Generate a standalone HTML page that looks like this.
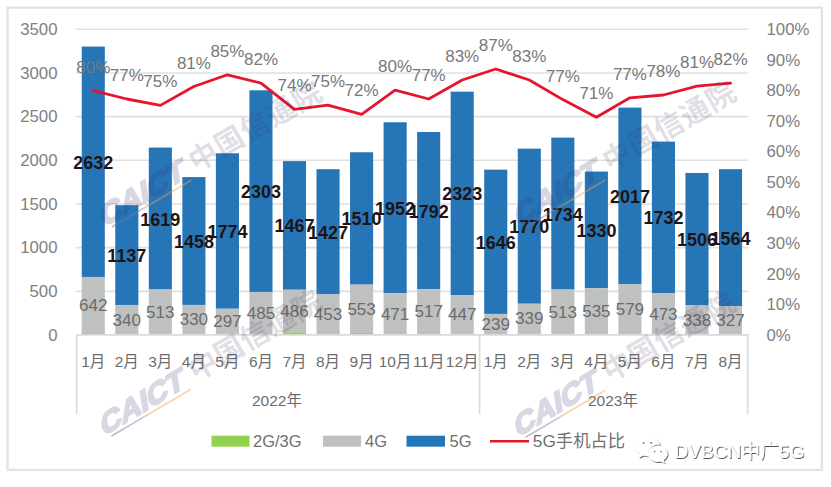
<!DOCTYPE html>
<html lang="zh"><head><meta charset="utf-8"><title>chart</title>
<style>
html,body{margin:0;padding:0;background:#fff;}
body{width:831px;height:487px;overflow:hidden;}
svg{display:block;}
text{font-family:"Liberation Sans","Noto Sans CJK SC",sans-serif;}
.ax{font-size:16.8px;fill:#808080;}
.mo{font-size:15.5px;fill:#6c6c6c;}
.pc{font-size:17px;fill:#787878;}
.g4{font-size:17px;fill:#6b6b6b;}
.b5{font-size:18px;font-weight:bold;fill:#1f1414;}
.lg{font-size:16.5px;fill:#707070;}
.wmA{font-size:28px;font-weight:bold;fill:#3a3370;stroke:#3a3370;stroke-width:2px;stroke-linejoin:round;opacity:0.19;}
.wmB{font-size:29px;font-weight:700;fill:#40385a;fill-opacity:0.18;letter-spacing:0.8px;}
.wx{font-size:19px;fill:#fff;}
</style></head><body>
<svg width="831" height="487" viewBox="0 0 831 487">
<defs>
<filter id="sh" x="-10%" y="-20%" width="120%" height="150%"><feDropShadow dx="0.8" dy="0.9" stdDeviation="0.5" flood-color="#000" flood-opacity="0.75"/></filter>
<linearGradient id="ul" x1="0" x2="1" y1="0" y2="0"><stop offset="0" stop-color="#6a64a8"/><stop offset="0.38" stop-color="#8a80b0"/><stop offset="0.5" stop-color="#f0a040"/><stop offset="1" stop-color="#f0a040"/></linearGradient>
<g id="wm"><g transform="translate(2.5,2.2) rotate(-30.8) skewX(-22) scale(1.12,1)"><text class="wmA" x="0" y="0">CAICT</text></g><g transform="skewY(-30.5)"><rect x="11" y="7.6" width="79.5" height="2" fill="url(#ul)" opacity="0.45"/></g><g transform="translate(102.25,-69.4) rotate(-30)"><text class="wmB" x="-14.5" y="11">中国信通院</text></g></g>
</defs>
<rect x="0" y="0" width="831" height="487" fill="#fff"/>
<rect x="7.6" y="7.6" width="814.3" height="462.3" fill="#fff" stroke="#e3e3e3" stroke-width="2.3"/>
<line x1="76" y1="291.33" x2="748.4" y2="291.33" stroke="#e0e0e0" stroke-width="1.6"/>
<line x1="76" y1="247.66" x2="748.4" y2="247.66" stroke="#e0e0e0" stroke-width="1.6"/>
<line x1="76" y1="203.99" x2="748.4" y2="203.99" stroke="#e0e0e0" stroke-width="1.6"/>
<line x1="76" y1="160.31" x2="748.4" y2="160.31" stroke="#e0e0e0" stroke-width="1.6"/>
<line x1="76" y1="116.64" x2="748.4" y2="116.64" stroke="#e0e0e0" stroke-width="1.6"/>
<line x1="76" y1="72.97" x2="748.4" y2="72.97" stroke="#e0e0e0" stroke-width="1.6"/>
<line x1="76" y1="29.30" x2="748.4" y2="29.30" stroke="#e0e0e0" stroke-width="1.6"/>
<rect x="81.72" y="46.58" width="23.1" height="230.39" fill="#2675b7"/><rect x="81.72" y="276.96" width="23.1" height="56.17" fill="#bfc0c0"/><rect x="81.72" y="333.14" width="23.1" height="1.86" fill="#92d050"/>
<rect x="115.26" y="205.17" width="23.1" height="99.81" fill="#2675b7"/><rect x="115.26" y="304.98" width="23.1" height="29.80" fill="#bfc0c0"/><rect x="115.26" y="334.78" width="23.1" height="0.22" fill="#92d050"/>
<rect x="148.80" y="147.56" width="23.1" height="141.91" fill="#2675b7"/><rect x="148.80" y="289.47" width="23.1" height="44.91" fill="#bfc0c0"/><rect x="148.80" y="334.38" width="23.1" height="0.62" fill="#92d050"/>
<rect x="182.34" y="177.09" width="23.1" height="127.85" fill="#2675b7"/><rect x="182.34" y="304.94" width="23.1" height="28.92" fill="#bfc0c0"/><rect x="182.34" y="333.86" width="23.1" height="1.14" fill="#92d050"/>
<rect x="215.88" y="153.28" width="23.1" height="155.45" fill="#2675b7"/><rect x="215.88" y="308.73" width="23.1" height="26.04" fill="#bfc0c0"/><rect x="215.88" y="334.77" width="23.1" height="0.23" fill="#92d050"/>
<rect x="249.42" y="90.29" width="23.1" height="201.65" fill="#2675b7"/><rect x="249.42" y="291.94" width="23.1" height="42.46" fill="#bfc0c0"/><rect x="249.42" y="334.40" width="23.1" height="0.60" fill="#92d050"/>
<rect x="282.96" y="161.12" width="23.1" height="128.63" fill="#2675b7"/><rect x="282.96" y="289.75" width="23.1" height="42.55" fill="#bfc0c0"/><rect x="282.96" y="332.30" width="23.1" height="2.70" fill="#92d050"/>
<rect x="316.50" y="169.22" width="23.1" height="125.14" fill="#2675b7"/><rect x="316.50" y="294.36" width="23.1" height="39.67" fill="#bfc0c0"/><rect x="316.50" y="334.03" width="23.1" height="0.97" fill="#92d050"/>
<rect x="350.04" y="152.26" width="23.1" height="132.39" fill="#2675b7"/><rect x="350.04" y="284.65" width="23.1" height="48.40" fill="#bfc0c0"/><rect x="350.04" y="333.05" width="23.1" height="1.95" fill="#92d050"/>
<rect x="383.58" y="122.25" width="23.1" height="170.99" fill="#2675b7"/><rect x="383.58" y="293.24" width="23.1" height="41.24" fill="#bfc0c0"/><rect x="383.58" y="334.48" width="23.1" height="0.52" fill="#92d050"/>
<rect x="417.12" y="132.03" width="23.1" height="157.02" fill="#2675b7"/><rect x="417.12" y="289.05" width="23.1" height="45.26" fill="#bfc0c0"/><rect x="417.12" y="334.31" width="23.1" height="0.69" fill="#92d050"/>
<rect x="450.66" y="91.66" width="23.1" height="203.40" fill="#2675b7"/><rect x="450.66" y="295.06" width="23.1" height="39.14" fill="#bfc0c0"/><rect x="450.66" y="334.20" width="23.1" height="0.80" fill="#92d050"/>
<rect x="484.20" y="169.65" width="23.1" height="144.27" fill="#2675b7"/><rect x="484.20" y="313.92" width="23.1" height="20.97" fill="#bfc0c0"/><rect x="484.20" y="334.89" width="23.1" height="0.11" fill="#92d050"/>
<rect x="517.74" y="148.64" width="23.1" height="155.10" fill="#2675b7"/><rect x="517.74" y="303.73" width="23.1" height="29.71" fill="#bfc0c0"/><rect x="517.74" y="333.44" width="23.1" height="1.56" fill="#92d050"/>
<rect x="551.28" y="137.60" width="23.1" height="151.95" fill="#2675b7"/><rect x="551.28" y="289.55" width="23.1" height="44.91" fill="#bfc0c0"/><rect x="551.28" y="334.46" width="23.1" height="0.54" fill="#92d050"/>
<rect x="584.82" y="171.56" width="23.1" height="116.67" fill="#2675b7"/><rect x="584.82" y="288.23" width="23.1" height="46.83" fill="#bfc0c0"/><rect x="584.82" y="335.06" width="23.1" height="-0.06" fill="#92d050"/>
<rect x="618.36" y="107.59" width="23.1" height="176.67" fill="#2675b7"/><rect x="618.36" y="284.26" width="23.1" height="50.67" fill="#bfc0c0"/><rect x="618.36" y="334.93" width="23.1" height="0.07" fill="#92d050"/>
<rect x="651.90" y="141.58" width="23.1" height="151.78" fill="#2675b7"/><rect x="651.90" y="293.36" width="23.1" height="41.41" fill="#bfc0c0"/><rect x="651.90" y="334.77" width="23.1" height="0.23" fill="#92d050"/>
<rect x="685.44" y="172.96" width="23.1" height="132.04" fill="#2675b7"/><rect x="685.44" y="305.00" width="23.1" height="29.62" fill="#bfc0c0"/><rect x="685.44" y="334.62" width="23.1" height="0.38" fill="#92d050"/>
<rect x="718.98" y="169.18" width="23.1" height="137.10" fill="#2675b7"/><rect x="718.98" y="306.28" width="23.1" height="28.66" fill="#bfc0c0"/><rect x="718.98" y="334.94" width="23.1" height="0.06" fill="#92d050"/>
<line x1="76" y1="334.8" x2="748.4" y2="334.8" stroke="#dadada" stroke-width="1.8"/>
<line x1="76.7" y1="334" x2="76.7" y2="414.3" stroke="#dcdcdc" stroke-width="1.7"/>
<line x1="479.6" y1="334" x2="479.6" y2="414.3" stroke="#dcdcdc" stroke-width="1.7"/>
<line x1="747.7" y1="334" x2="747.7" y2="414.3" stroke="#dcdcdc" stroke-width="1.7"/>
<text class="ax" x="57.5" y="340.6" text-anchor="end">0</text>
<text class="ax" x="57.5" y="296.9" text-anchor="end">500</text>
<text class="ax" x="57.5" y="253.3" text-anchor="end">1000</text>
<text class="ax" x="57.5" y="209.6" text-anchor="end">1500</text>
<text class="ax" x="57.5" y="165.9" text-anchor="end">2000</text>
<text class="ax" x="57.5" y="122.2" text-anchor="end">2500</text>
<text class="ax" x="57.5" y="78.6" text-anchor="end">3000</text>
<text class="ax" x="57.5" y="34.9" text-anchor="end">3500</text>
<text class="ax" x="766.5" y="340.6">0%</text>
<text class="ax" x="766.5" y="310.0">10%</text>
<text class="ax" x="766.5" y="279.5">20%</text>
<text class="ax" x="766.5" y="248.9">30%</text>
<text class="ax" x="766.5" y="218.3">40%</text>
<text class="ax" x="766.5" y="187.8">50%</text>
<text class="ax" x="766.5" y="157.2">60%</text>
<text class="ax" x="766.5" y="126.6">70%</text>
<text class="ax" x="766.5" y="96.0">80%</text>
<text class="ax" x="766.5" y="65.5">90%</text>
<text class="ax" x="766.5" y="34.9">100%</text>
<text class="mo" x="93.3" y="366.8" text-anchor="middle">1月</text>
<text class="mo" x="126.8" y="366.8" text-anchor="middle">2月</text>
<text class="mo" x="160.3" y="366.8" text-anchor="middle">3月</text>
<text class="mo" x="193.9" y="366.8" text-anchor="middle">4月</text>
<text class="mo" x="227.4" y="366.8" text-anchor="middle">5月</text>
<text class="mo" x="261.0" y="366.8" text-anchor="middle">6月</text>
<text class="mo" x="294.5" y="366.8" text-anchor="middle">7月</text>
<text class="mo" x="328.0" y="366.8" text-anchor="middle">8月</text>
<text class="mo" x="361.6" y="366.8" text-anchor="middle">9月</text>
<text class="mo" x="395.1" y="366.8" text-anchor="middle">10月</text>
<text class="mo" x="428.7" y="366.8" text-anchor="middle">11月</text>
<text class="mo" x="462.2" y="366.8" text-anchor="middle">12月</text>
<text class="mo" x="495.8" y="366.8" text-anchor="middle">1月</text>
<text class="mo" x="529.3" y="366.8" text-anchor="middle">2月</text>
<text class="mo" x="562.8" y="366.8" text-anchor="middle">3月</text>
<text class="mo" x="596.4" y="366.8" text-anchor="middle">4月</text>
<text class="mo" x="629.9" y="366.8" text-anchor="middle">5月</text>
<text class="mo" x="663.4" y="366.8" text-anchor="middle">6月</text>
<text class="mo" x="697.0" y="366.8" text-anchor="middle">7月</text>
<text class="mo" x="730.5" y="366.8" text-anchor="middle">8月</text>
<text class="mo" x="277" y="406" text-anchor="middle">2022年</text>
<text class="mo" x="613" y="406" text-anchor="middle">2023年</text>
<text class="g4" x="93.3" y="310.7" text-anchor="middle">642</text>
<text class="g4" x="126.8" y="325.5" text-anchor="middle">340</text>
<text class="g4" x="160.3" y="317.6" text-anchor="middle">513</text>
<text class="g4" x="193.9" y="325.1" text-anchor="middle">330</text>
<text class="g4" x="227.4" y="327.4" text-anchor="middle">297</text>
<text class="g4" x="261.0" y="318.8" text-anchor="middle">485</text>
<text class="g4" x="294.5" y="316.7" text-anchor="middle">486</text>
<text class="g4" x="328.0" y="319.8" text-anchor="middle">453</text>
<text class="g4" x="361.6" y="314.5" text-anchor="middle">553</text>
<text class="g4" x="395.1" y="319.5" text-anchor="middle">471</text>
<text class="g4" x="428.7" y="317.3" text-anchor="middle">517</text>
<text class="g4" x="462.2" y="320.3" text-anchor="middle">447</text>
<text class="g4" x="495.8" y="330.1" text-anchor="middle">239</text>
<text class="g4" x="529.3" y="324.2" text-anchor="middle">339</text>
<text class="g4" x="562.8" y="317.7" text-anchor="middle">513</text>
<text class="g4" x="596.4" y="317.3" text-anchor="middle">535</text>
<text class="g4" x="629.9" y="315.2" text-anchor="middle">579</text>
<text class="g4" x="663.4" y="319.7" text-anchor="middle">473</text>
<text class="g4" x="697.0" y="325.5" text-anchor="middle">338</text>
<text class="g4" x="730.5" y="326.3" text-anchor="middle">327</text>
<text class="b5" x="93.3" y="168.7" text-anchor="middle">2632</text>
<text class="b5" x="126.8" y="262.0" text-anchor="middle">1137</text>
<text class="b5" x="160.3" y="225.5" text-anchor="middle">1619</text>
<text class="b5" x="193.9" y="248.0" text-anchor="middle">1458</text>
<text class="b5" x="227.4" y="238.0" text-anchor="middle">1774</text>
<text class="b5" x="261.0" y="198.1" text-anchor="middle">2303</text>
<text class="b5" x="294.5" y="232.4" text-anchor="middle">1467</text>
<text class="b5" x="328.0" y="238.7" text-anchor="middle">1427</text>
<text class="b5" x="361.6" y="225.4" text-anchor="middle">1510</text>
<text class="b5" x="395.1" y="214.7" text-anchor="middle">1952</text>
<text class="b5" x="428.7" y="217.5" text-anchor="middle">1792</text>
<text class="b5" x="462.2" y="200.3" text-anchor="middle">2323</text>
<text class="b5" x="495.8" y="248.7" text-anchor="middle">1646</text>
<text class="b5" x="529.3" y="233.1" text-anchor="middle">1770</text>
<text class="b5" x="562.8" y="220.5" text-anchor="middle">1734</text>
<text class="b5" x="596.4" y="236.8" text-anchor="middle">1330</text>
<text class="b5" x="629.9" y="202.9" text-anchor="middle">2017</text>
<text class="b5" x="663.4" y="224.4" text-anchor="middle">1732</text>
<text class="b5" x="697.0" y="245.9" text-anchor="middle">1506</text>
<text class="b5" x="730.5" y="244.7" text-anchor="middle">1564</text>
<polyline points="93.3,90.7 126.8,99.0 160.3,105.4 193.9,86.5 227.4,74.8 261.0,83.1 294.5,109.4 328.0,105.1 361.6,114.3 395.1,90.1 428.7,99.0 462.2,80.0 495.8,69.0 529.3,80.0 562.8,99.6 596.4,117.3 629.9,97.8 663.4,95.0 697.0,86.2 730.5,83.1" fill="none" stroke="#e6142d" stroke-width="2.8" stroke-linejoin="round" stroke-linecap="round"/>
<text class="pc" x="93.3" y="72.7" text-anchor="middle">80%</text>
<text class="pc" x="126.8" y="81.0" text-anchor="middle">77%</text>
<text class="pc" x="160.3" y="87.4" text-anchor="middle">75%</text>
<text class="pc" x="193.9" y="68.5" text-anchor="middle">81%</text>
<text class="pc" x="227.4" y="56.8" text-anchor="middle">85%</text>
<text class="pc" x="261.0" y="65.1" text-anchor="middle">82%</text>
<text class="pc" x="294.5" y="91.4" text-anchor="middle">74%</text>
<text class="pc" x="328.0" y="87.1" text-anchor="middle">75%</text>
<text class="pc" x="361.6" y="96.3" text-anchor="middle">72%</text>
<text class="pc" x="395.1" y="72.1" text-anchor="middle">80%</text>
<text class="pc" x="428.7" y="81.0" text-anchor="middle">77%</text>
<text class="pc" x="462.2" y="62.0" text-anchor="middle">83%</text>
<text class="pc" x="495.8" y="51.0" text-anchor="middle">87%</text>
<text class="pc" x="529.3" y="62.0" text-anchor="middle">83%</text>
<text class="pc" x="562.8" y="81.6" text-anchor="middle">77%</text>
<text class="pc" x="596.4" y="99.3" text-anchor="middle">71%</text>
<text class="pc" x="629.9" y="79.8" text-anchor="middle">77%</text>
<text class="pc" x="663.4" y="77.0" text-anchor="middle">78%</text>
<text class="pc" x="697.0" y="68.2" text-anchor="middle">81%</text>
<text class="pc" x="730.5" y="65.1" text-anchor="middle">82%</text>
<rect x="211.5" y="435.7" width="38" height="11" fill="#92d050"/><text class="lg" x="253" y="447">2G/3G</text>
<rect x="323" y="435.7" width="38" height="11" fill="#bfc0c0"/><text class="lg" x="365" y="447">4G</text>
<rect x="406.5" y="435.7" width="38.5" height="11" fill="#2675b7"/><text class="lg" x="449.5" y="447">5G</text>
<line x1="490" y1="441.2" x2="529" y2="441.2" stroke="#e6142d" stroke-width="2.6"/><text class="lg" x="532.8" y="447.3" style="font-size:17.3px">5G手机占比</text>
<use href="#wm" transform="translate(100.5,434.0)"/>
<use href="#wm" transform="translate(514.5,435.2)"/>
<use href="#wm" transform="translate(100.8,225.0)"/>
<use href="#wm" transform="translate(514.8,224.8)"/>
<g filter="url(#sh)" fill="#fff">
<path d="M647.5 436.5c-6.6 0-11.9 4.4-11.9 9.9 0 3.1 1.7 5.8 4.4 7.6l-1.3 3.9 4.5-2.3c1.3 0.4 2.8 0.7 4.3 0.7 0.4 0 0.8 0 1.200-0.100-0.300-0.800-0.400-1.700-0.400-2.600 0-5 4.900-9 10.900-9 0.300 0 0.600 0 0.900 0-1.100-4.600-6.100-8.100-12.600-8.100z"/>
<path d="M667.6 453.800c0-4.500-4.400-8.100-9.800-8.100s-9.800 3.600-9.800 8.100 4.400 8.100 9.800 8.100c1.200 0 2.300-0.200 3.400-0.500l3.500 1.900-1-3.200c2.400-1.500 3.900-3.800 3.900-6.300z"/>
</g>
<g fill="#8a8a8a"><circle cx="643.6" cy="443" r="1.1"/><circle cx="651.2" cy="443" r="1.1"/><circle cx="654.6" cy="451.6" r="0.9"/><circle cx="661" cy="451.6" r="0.9"/></g>
<text class="wx" x="674.6" y="458.3" filter="url(#sh)">DVBCN中广5G</text>
</svg>
</body></html>
